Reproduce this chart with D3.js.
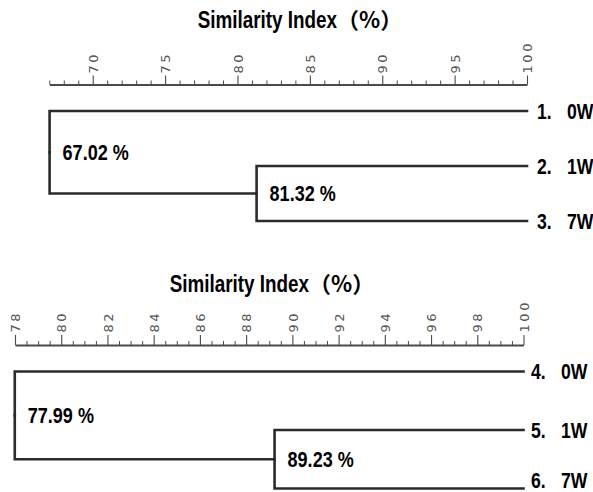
<!DOCTYPE html>
<html>
<head>
<meta charset="utf-8">
<script src="https://cdn.jsdelivr.net/npm/d3@7"></script>
<style>
  html, body { margin: 0; padding: 0; background: #fff; }
  svg { display: block; }
</style>
</head>
<body>
<svg id="chart" width="593" height="492"></svg>
<script>
// ---- data ----
const axisTitle = "Similarity Index";
const axisUnit = "（%）";

// upper dendrogram
const topIds = ["1.", "2.", "3."];
const topNames = ["0W", "1W", "7W"];
const topMerges = [81.32, 67.02];          // 2+3 join first, then 1 joins that pair
const topTicks = [70, 75, 80, 85, 90, 95, 100];
const topAxisStart = 67;

// lower dendrogram
const bottomIds = ["4.", "5.", "6."];
const bottomNames = ["0W", "1W", "7W"];
const bottomMerges = [89.23, 77.99];       // 5+6 join first, then 4 joins that pair
const bottomTicks = [78, 80, 82, 84, 86, 88, 90, 92, 94, 96, 98, 100];
const bottomAxisStart = 78;

// ---- drawing ----
const W = 593, H = 492;
const svg = d3.select("#chart");
const NARROW = 0.82;                        // horizontal squeeze for the bold narrow face
const boldFont = "'Liberation Sans', Arial, sans-serif";
const lineColor = "#2b2b2b";
const rulerColor = "#4a4a4a";

function narrowText(parent, x, y, str, size, anchor) {
  const g = parent.append("g").attr("transform", `translate(${x},${y}) scale(${NARROW},1)`);
  return g.append("text")
    .attr("font-family", boldFont)
    .attr("font-weight", "bold")
    .attr("font-size", size)
    .attr("fill", "#000")
    .attr("text-anchor", anchor || "start")
    .text(str);
}

function drawPanel(cfg) {
  const g = svg.append("g");
  const x = d3.scaleLinear().domain([cfg.axisStart, 100]).range(cfg.xRange);

  // title: narrow bold words followed by the full-width bracketed unit
  const probe = narrowText(g, 0, -100, axisTitle, cfg.titleSize);
  const titleW = probe.node().getComputedTextLength() * NARROW;
  probe.node().parentNode.remove();
  const unit = g.append("text")
    .attr("font-family", "'Noto Sans CJK JP', 'Liberation Sans', sans-serif")
    .attr("font-weight", "bold")
    .attr("font-size", cfg.titleSize - 1)
    .text(axisUnit);
  const unitW = unit.node().getComputedTextLength();
  const left = cfg.titleCx - (titleW + unitW) / 2;
  narrowText(g, left, cfg.titleY, axisTitle, cfg.titleSize);
  unit.attr("x", left + titleW).attr("y", cfg.titleY);

  // ruler: minor ticks, then major ticks with rotated labels
  const minor = d3.range(cfg.axisStart, 100 + 1e-9, cfg.minorStep)
    .filter(v => !cfg.ticks.includes(v));
  const axisG = g.append("g").attr("transform", `translate(0,${cfg.axisY})`);

  axisG.append("g")
    .call(d3.axisTop(x).tickValues(minor).tickSize(4).tickSizeOuter(0).tickFormat(""))
    .call(a => a.select(".domain").remove())
    .selectAll("line").attr("stroke", rulerColor).attr("stroke-width", 1);

  const major = axisG.append("g")
    .call(d3.axisTop(x).tickValues(cfg.ticks).tickSize(cfg.majorLen).tickSizeOuter(0).tickFormat(d3.format("d")));
  major.select(".domain").attr("stroke", rulerColor).attr("stroke-width", 1.8);
  major.selectAll(".tick line").attr("stroke", rulerColor).attr("stroke-width", 1.1);
  major.selectAll(".tick text")
    .attr("transform", "rotate(-90)")
    .attr("x", cfg.labelGap)
    .attr("y", 0)
    .attr("dy", "0.36em")
    .attr("text-anchor", "start")
    .attr("font-family", "'DejaVu Sans', sans-serif")
    .attr("font-size", 13)
    .attr("letter-spacing", "2.6px")
    .attr("fill", "#555");

  // tree from merge levels: leaf 0 joins (leaf 1 + leaf 2)
  const tree = {
    level: cfg.merges[1],
    children: [
      { leaf: 0 },
      { level: cfg.merges[0], children: [{ leaf: 1 }, { leaf: 2 }] }
    ]
  };
  const root = d3.hierarchy(tree);
  const yLeaf = d3.scalePoint().domain(d3.range(cfg.names.length)).range(cfg.leafY);
  root.eachAfter(n => {
    if (n.children) {
      n.px = x(n.data.level);
      n.py = d3.mean(n.children, c => c.py);
    } else {
      n.px = x(100);
      n.py = yLeaf(n.data.leaf);
    }
  });

  g.append("g")
    .selectAll("path")
    .data(root.links())
    .join("path")
    .attr("d", l => `M${l.source.px},${l.source.py}V${l.target.py}H${l.target.px}`)
    .attr("fill", "none")
    .attr("stroke", lineColor)
    .attr("stroke-width", 2.6)
    .attr("stroke-linecap", "square");

  // similarity labels beside each join
  root.descendants().filter(n => n.children).forEach(n => {
    narrowText(g, n.px + 13, n.py, d3.format(".2f")(n.data.level) + " %", cfg.pctSize)
      .attr("dy", "0.36em");
  });

  // sample labels (kept inside the bottom edge)
  root.leaves().forEach(n => {
    const i = n.data.leaf;
    const ty = Math.min(n.py, H - 12);
    const lx = x(100) + cfg.leafLabelGap;
    narrowText(g, lx, ty, cfg.ids[i], cfg.leafSize).attr("dy", "0.36em");
    narrowText(g, lx + cfg.nameOffset, ty, cfg.names[i], cfg.leafSize).attr("dy", "0.36em");
  });
}

drawPanel({
  ids: topIds, names: topNames, merges: topMerges, ticks: topTicks,
  axisStart: topAxisStart, minorStep: 1,
  xRange: [49.3, 527], axisY: 84.5, majorLen: 9, labelGap: 11,
  leafY: [111, 221],
  titleCx: 300, titleY: 28, titleSize: 23,
  pctSize: 22, leafSize: 21.5, leafLabelGap: 10, nameOffset: 30
});

drawPanel({
  ids: bottomIds, names: bottomNames, merges: bottomMerges, ticks: bottomTicks,
  axisStart: bottomAxisStart, minorStep: 0.5,
  xRange: [15, 523.5], axisY: 345, majorLen: 10, labelGap: 12.5,
  leafY: [371.5, 488.5],
  titleCx: 272, titleY: 292, titleSize: 23,
  pctSize: 22, leafSize: 21.5, leafLabelGap: 7.5, nameOffset: 30
});
</script>
</body>
</html>
